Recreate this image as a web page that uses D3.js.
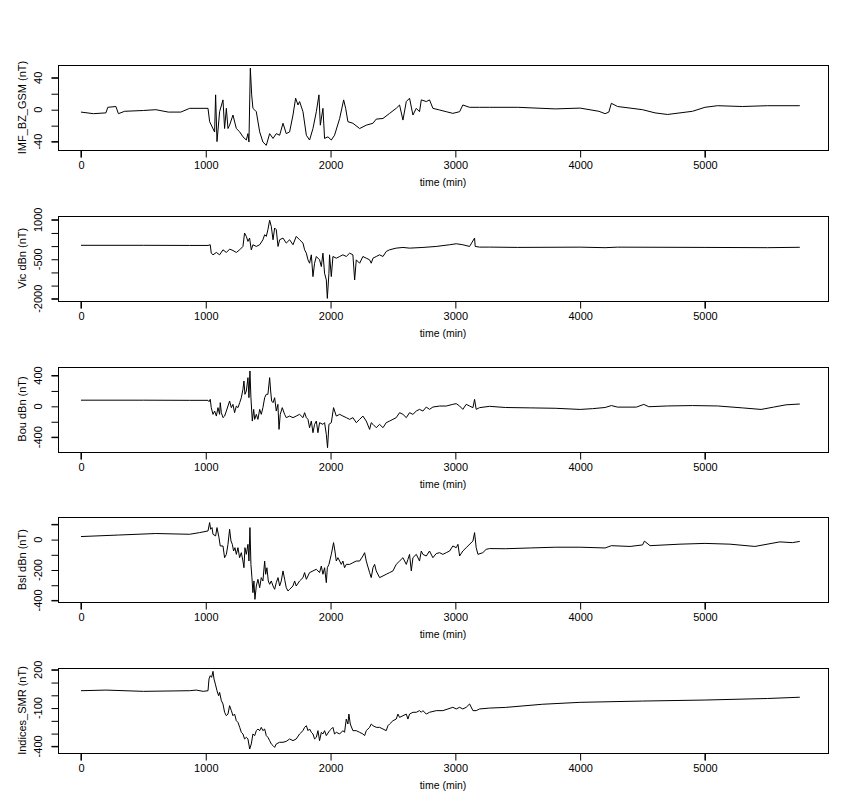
<!DOCTYPE html>
<html><head><meta charset="utf-8">
<script src="https://cdn.jsdelivr.net/npm/d3@7"></script>
<style>body{margin:0;background:#fff}svg{display:block}text{font-family:"Liberation Sans",Arial,sans-serif;font-size:11px;fill:#000}</style>
</head><body><svg id="c" width="868" height="794"></svg>
<script>
const xTicks=[0,1000,2000,3000,4000,5000];
const xLabel="time (min)";
const titles=["IMF_BZ_GSM (nT)","Vic dBn (nT)","Bou dBn (nT)","Bsl dBn (nT)","Indices_SMR (nT)"];
const yDomains=[[-50.5,56],[-2076,1153],[-586,517],[-412,147],[-452,214]];
const yTicks=[[-40,-20,0,20,40],[-2000,-1500,-1000,-500,0,500,1000],[-400,-200,0,200,400],[-400,-300,-200,-100,0,100],[-400,-300,-200,-100,0,100,200]];
const yTickLabels=[[-40,0,40],[1000,-500,-2000],[-400,0,400],[0,-200,-400],[200,-100,-400]];
const imfBz=[[0,-3],[100,-5],[200,-4],[215,3],[280,4],[300,-5],[350,-2],[500,-1],[600,0],[700,-3],[800,-3],[871,1.7],[1018,1.7],[1031,-15],[1071,-28],[1079,18.6],[1090,-40],[1111,-2.5],[1138,12.3],[1151,-23.6],[1165,1.7],[1178,-23.6],[1191,-19.4],[1218,-6.7],[1245,-23.6],[1272,-27.8],[1298,-34],[1325,-38],[1338,-30],[1346,-40.5],[1357,52],[1368,18.6],[1378,1.7],[1405,-2.5],[1432,-27.8],[1458,-40.5],[1485,-44.7],[1512,-30],[1539,-36],[1565,-30],[1592,-32],[1619,-17],[1645,-30],[1672,-27.8],[1699,-6.7],[1720,14.4],[1739,5.9],[1752,10.2],[1779,-2.5],[1806,-32],[1832,-38],[1859,-23.6],[1886,-2.5],[1907,18.6],[1918,-19.4],[1939,1.7],[1952,-36],[1979,-34],[2006,-38],[2032,-32],[2073,-11],[2105,12.3],[2121,1.7],[2139,-15],[2179,-17],[2233,-23.6],[2286,-19.4],[2340,-17],[2366,-11.8],[2420,-11],[2473,-4.6],[2526,1.7],[2553,5.9],[2580,-13],[2607,10.2],[2633,14.4],[2660,-6.7],[2687,1.7],[2713,-2.5],[2727,12.3],[2767,10.2],[2793,12.3],[2820,1.7],[2874,-0.4],[2927,-2.5],[2980,-4.6],[3034,-2.5],[3060,5.9],[3114,3],[3194,3],[3274,3],[3500,3],[3800,1],[4000,2],[4150,-2],[4200,-5],[4230,-3],[4250,8],[4300,4],[4500,0],[4600,-4],[4700,-6],[4800,-4],[4900,-2],[5000,3],[5100,5],[5300,4],[5500,5],[5760,5]];
const vicDbn=[[0,30],[500,30],[871,25],[1018,25],[1036,51],[1044,-268],[1058,-331],[1085,-242],[1111,-331],[1138,-140],[1165,-242],[1191,-115],[1218,-166],[1245,-242],[1272,-140],[1298,-13],[1311,496],[1325,369],[1338,178],[1351,305],[1365,-140],[1378,51],[1405,-13],[1432,51],[1458,241],[1472,433],[1485,369],[1498,624],[1512,980],[1525,751],[1539,241],[1552,687],[1565,624],[1579,-13],[1592,241],[1619,305],[1645,114],[1672,241],[1699,51],[1725,369],[1752,241],[1779,114],[1792,-140],[1806,-268],[1819,-522],[1832,-650],[1846,-331],[1859,-1159],[1872,-650],[1886,-395],[1912,-522],[1926,-777],[1939,-268],[1952,-1031],[1966,-1286],[1974,-1986],[1987,-1031],[1992,-331],[2006,-1159],[2019,-395],[2046,-459],[2073,-395],[2099,-331],[2126,-395],[2153,-268],[2179,-331],[2193,-1286],[2206,-522],[2233,-650],[2259,-395],[2286,-459],[2313,-522],[2326,-650],[2340,-459],[2366,-395],[2393,-331],[2420,-395],[2446,-204],[2473,-140],[2526,-77],[2580,-51],[2633,-77],[2740,-51],[2847,-13],[2954,51],[3007,89],[3060,51],[3114,-13],[3154,305],[3159,-13],[3194,-38],[3274,-38],[3500,-50],[4000,-40],[4200,-60],[4300,-40],[5000,-50],[5500,-60],[5760,-45]];
const bouDbn=[[0,80],[500,80],[871,78],[1018,78],[1026,61],[1036,91],[1044,-17],[1058,-104],[1071,-61],[1085,-126],[1098,-17],[1111,-104],[1116,48],[1125,-82],[1138,-147],[1151,-126],[1165,-61],[1178,4],[1191,69],[1205,-17],[1218,26],[1231,-82],[1245,4],[1258,-17],[1272,48],[1285,112],[1298,221],[1306,329],[1314,156],[1325,199],[1338,372],[1346,112],[1354,459],[1362,112],[1373,-191],[1384,-39],[1392,-169],[1405,-104],[1418,-169],[1432,-39],[1445,-104],[1458,-17],[1472,112],[1485,156],[1498,156],[1512,372],[1520,199],[1528,69],[1539,48],[1552,112],[1565,-61],[1578,26],[1587,-299],[1597,-104],[1613,-17],[1632,-104],[1645,-147],[1672,-126],[1699,-147],[1725,-126],[1752,-104],[1779,-147],[1792,-82],[1806,-147],[1819,-169],[1832,-277],[1846,-191],[1859,-342],[1872,-234],[1886,-191],[1899,-342],[1912,-212],[1939,-234],[1952,-212],[1966,-364],[1976,-537],[1987,-234],[2006,-212],[2024,-17],[2046,-126],[2073,-104],[2099,-126],[2126,-147],[2153,-169],[2179,-147],[2206,-212],[2233,-169],[2259,-126],[2286,-191],[2313,-299],[2326,-212],[2340,-234],[2366,-277],[2393,-234],[2420,-277],[2446,-212],[2473,-191],[2526,-147],[2553,-82],[2580,-104],[2607,-147],[2633,-82],[2660,-104],[2687,-61],[2713,-39],[2740,-61],[2767,-9],[2793,-39],[2820,-9],[2874,4],[2927,4],[2980,26],[3007,35],[3034,4],[3060,-39],[3087,26],[3114,4],[3141,-17],[3154,91],[3167,-39],[3194,-17],[3274,0],[3400,-15],[3600,-20],[3800,-25],[4000,-40],[4100,-30],[4200,-15],[4250,10],[4300,-10],[4450,-10],[4510,25],[4550,-5],[4700,5],[4900,10],[5100,5],[5300,-20],[5450,-40],[5550,-10],[5650,20],[5760,30]];
const bslDbn=[[0,20],[300,30],[600,40],[871,35],[951,46],[1018,57],[1031,112],[1039,68],[1050,79],[1058,35],[1079,24],[1090,79],[1106,13],[1116,-42],[1138,-42],[1151,-119],[1165,-97],[1178,-31],[1191,68],[1202,-9],[1213,-31],[1223,-75],[1234,-53],[1245,-97],[1258,-53],[1271,-119],[1285,-86],[1298,-141],[1306,-185],[1314,-53],[1325,-97],[1338,-31],[1346,-141],[1354,79],[1362,-163],[1370,-250],[1378,-349],[1386,-272],[1394,-393],[1405,-305],[1418,-261],[1432,-316],[1445,-250],[1458,-272],[1472,-141],[1480,-228],[1490,-185],[1501,-272],[1512,-294],[1525,-272],[1539,-305],[1552,-327],[1565,-283],[1579,-250],[1592,-305],[1605,-272],[1619,-206],[1632,-261],[1645,-316],[1659,-338],[1672,-327],[1699,-305],[1712,-272],[1725,-305],[1752,-272],[1779,-250],[1792,-217],[1806,-261],[1832,-217],[1859,-206],[1886,-195],[1912,-217],[1926,-174],[1939,-228],[1952,-185],[1966,-283],[1974,-185],[1987,-163],[2006,-97],[2024,-20],[2035,-75],[2046,-141],[2059,-119],[2073,-141],[2086,-163],[2099,-141],[2112,-185],[2126,-163],[2153,-163],[2179,-152],[2206,-141],[2233,-141],[2259,-108],[2273,-86],[2286,-141],[2313,-217],[2326,-250],[2340,-185],[2353,-163],[2366,-206],[2393,-250],[2420,-239],[2446,-228],[2473,-217],[2500,-206],[2526,-163],[2553,-141],[2580,-119],[2607,-163],[2620,-130],[2633,-97],[2647,-206],[2660,-119],[2687,-97],[2713,-141],[2727,-75],[2740,-97],[2767,-108],[2793,-75],[2820,-119],[2847,-92],[2874,-86],[2900,-97],[2927,-86],[2954,-75],[2980,-42],[3007,-53],[3021,-31],[3034,-108],[3060,-75],[3087,-53],[3141,-9],[3154,46],[3167,-53],[3181,-97],[3220,-86],[3247,-64],[3274,-59],[3400,-60],[3600,-55],[3800,-50],[4000,-50],[4200,-55],[4250,-40],[4400,-45],[4500,-35],[4515,-10],[4560,-40],[4800,-30],[5000,-25],[5200,-30],[5400,-45],[5600,-15],[5700,-20],[5760,-12]];
const smr=[[0,36],[200,41],[500,31],[871,36],[924,41],[980,31],[1018,36],[1026,128],[1036,154],[1047,141],[1058,188],[1066,128],[1077,88],[1090,36],[1103,-3],[1111,23],[1125,-42],[1138,-68],[1151,-133],[1165,-160],[1178,-147],[1191,-81],[1205,-120],[1218,-160],[1231,-147],[1245,-199],[1258,-212],[1272,-251],[1285,-290],[1298,-303],[1311,-342],[1325,-329],[1338,-342],[1352,-421],[1365,-381],[1378,-303],[1392,-316],[1405,-277],[1418,-264],[1432,-277],[1445,-251],[1458,-277],[1472,-264],[1485,-316],[1498,-329],[1512,-355],[1525,-381],[1539,-394],[1552,-408],[1565,-381],[1592,-368],[1619,-368],[1645,-361],[1672,-342],[1699,-355],[1725,-342],[1752,-303],[1779,-277],[1792,-251],[1806,-238],[1819,-277],[1832,-264],[1846,-290],[1859,-303],[1872,-342],[1886,-329],[1899,-277],[1912,-355],[1926,-290],[1939,-303],[1952,-277],[1966,-316],[1992,-277],[2006,-264],[2019,-251],[2032,-303],[2046,-290],[2073,-303],[2099,-277],[2112,-290],[2126,-186],[2139,-225],[2147,-147],[2158,-225],[2179,-277],[2206,-277],[2233,-290],[2259,-303],[2273,-316],[2286,-277],[2313,-251],[2326,-225],[2340,-238],[2366,-251],[2393,-251],[2420,-264],[2446,-277],[2460,-238],[2473,-225],[2500,-199],[2526,-186],[2540,-147],[2553,-173],[2580,-160],[2607,-147],[2620,-186],[2633,-147],[2660,-133],[2687,-133],[2713,-120],[2727,-133],[2740,-120],[2767,-147],[2793,-133],[2847,-120],[2900,-120],[2980,-94],[3007,-107],[3034,-94],[3060,-107],[3087,-94],[3114,-68],[3141,-120],[3167,-120],[3194,-107],[3274,-100],[3400,-95],[3700,-70],[4000,-55],[4500,-45],[5000,-37],[5500,-25],[5760,-15]];
const series=[imfBz,vicDbn,bouDbn,bslDbn,smr];

const svg=d3.select("#c");
const L=58,R=828,H=85;
const x=d3.scaleLinear().domain([-184,5986]).range([L,R]);
series.forEach((data,i)=>{
  const top=65+150.75*i, bot=top+H;
  const y=d3.scaleLinear().domain(yDomains[i]).range([bot,top]);
  const g=svg.append("g");
  g.append("rect").attr("x",L+0.5).attr("y",Math.round(top)+0.5).attr("width",R-L).attr("height",H).attr("fill","none").attr("stroke","#000");
  g.append("path").datum(data).attr("fill","none").attr("stroke","#000").attr("stroke-width",1)
    .attr("d",d3.line().x(d=>x(d[0])).y(d=>y(d[1])));
  const xa=g.append("g").attr("transform",`translate(0,${Math.round(bot)+0.5})`)
    .call(d3.axisBottom(x).tickValues(xTicks).tickSize(7).tickPadding(4).tickFormat(d3.format("d")));
  xa.select(".domain").attr("d",`M${x(xTicks[0])},7V0H${x(xTicks[xTicks.length-1])}V7`);
  xa.selectAll("text").style("font-size","11px").style("font-family","Liberation Sans, Arial");
  g.append("text").attr("x",(L+R)/2).attr("y",bot+36).attr("text-anchor","middle").text(xLabel).style("font-size","10.5px");
  const ya=g.append("g").attr("transform",`translate(${L+0.5},0)`)
    .call(d3.axisLeft(y).tickValues(yTicks[i]).tickSize(7).tickFormat(d=>yTickLabels[i].includes(d)?d:""));
  const yt=yTicks[i];
  ya.select(".domain").attr("d",`M-7,${y(yt[0])}H0V${y(yt[yt.length-1])}H-7`);
  ya.selectAll("text").attr("x",0).attr("dy",0).attr("text-anchor","middle")
    .attr("transform",d=>`translate(-17,${y(d)}) rotate(-90)`).attr("y",0)
    .style("font-size","11px").style("font-family","Liberation Sans, Arial");
  ya.selectAll(".tick").attr("transform",null);
  ya.selectAll(".tick line").attr("y1",d=>y(d)+0.5).attr("y2",d=>y(d)+0.5);
  g.append("text").attr("transform",`translate(26,${(top+bot)/2}) rotate(-90)`).attr("text-anchor","middle").text(titles[i]);
});
</script></body></html>
